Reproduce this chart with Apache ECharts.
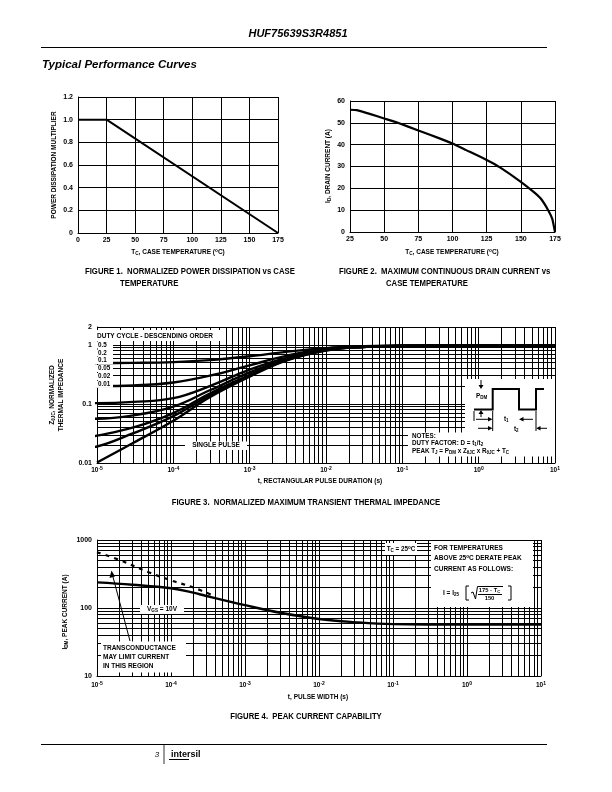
<!DOCTYPE html>
<html>
<head>
<meta charset="utf-8">
<script src="https://cdn.jsdelivr.net/npm/echarts@6/dist/echarts.min.js"></script>
<style>
  html, body { margin: 0; padding: 0; background: #fff; }
  #page { width: 612px; height: 792px; }
</style>
</head>
<body>
<div id="page"></div>
<script>
  // figure 1: power dissipation multiplier vs case temperature
  const fig1Temp = [0, 25, 175];
  const fig1Mult = [1.0, 1.0, 0];

  // figure 2: max continuous drain current vs case temperature
  const fig2Temp = [25, 30, 40, 50, 60, 75, 90, 100, 110, 125, 135, 150, 160, 165, 170, 173, 175];
  const fig2Current = [56, 55.8, 54, 52, 50, 46.5, 43, 40.5, 37.5, 33, 29.5, 23, 18, 15, 10, 6, 0];

  // figure 3: normalized transient thermal impedance
  const fig3Time = [8e-6, 1e-5, 3e-5, 1e-4, 3e-4, 1e-3, 3e-3, 1e-2, 3e-2, 1e-1, 1, 10];
  const duty05 = [0.49, 0.49, 0.495, 0.51, 0.55, 0.64, 0.76, 0.88, 0.94, 0.97, 0.97, 0.97];
  const duty02 = [0.2, 0.2, 0.205, 0.23, 0.3, 0.45, 0.65, 0.86, 0.93, 0.96, 0.97, 0.97];
  const duty01 = [0.103, 0.103, 0.108, 0.125, 0.2, 0.38, 0.6, 0.84, 0.93, 0.96, 0.97, 0.97];
  const duty005 = [0.056, 0.056, 0.064, 0.09, 0.17, 0.34, 0.58, 0.83, 0.92, 0.96, 0.97, 0.97];
  const duty002 = [0.028, 0.029, 0.04, 0.07, 0.15, 0.31, 0.56, 0.82, 0.92, 0.96, 0.97, 0.97];
  const duty001 = [0.0185, 0.019, 0.032, 0.062, 0.14, 0.30, 0.55, 0.81, 0.92, 0.96, 0.97, 0.97];
  const singlePulse = [null, 0.0102, 0.022, 0.052, 0.13, 0.29, 0.54, 0.8, 0.92, 0.96, 0.97, 0.97];
  const dutyLabels = ['0.5', '0.2', '0.1', '0.05', '0.02', '0.01'];

  // figure 4: peak current capability
  const fig4Time = [1e-5, 3e-5, 1e-4, 2e-4, 3e-4, 1e-3, 3e-3, 1e-2, 3e-2, 1e-1, 1, 10];
  const fig4Peak = [238, 220, 195, 168, 150, 110, 85, 69, 62, 58, 57, 57];
  const fig4LimitTime = [1e-5, 2e-5, 5e-5, 1e-4, 2e-4, 4e-4];
  const fig4Limit = [660, 510, 335, 255, 200, 148];

  const F = '"Liberation Sans", Arial, sans-serif';
  const FN = '"Liberation Sans Narrow", "Liberation Sans", Arial, sans-serif';

  const zip = (xs, ys) => xs.map((x, i) => [x, ys[i]]);

  // log grid positions (2..9 inside each decade)
  function minorVals(d0, d1) {
    const out = [];
    for (let d = d0; d <= d1; d++) {
      for (let k = 2; k <= 9; k++) out.push(+(k * Math.pow(10, d)).toPrecision(3));
    }
    return out;
  }

  function richFor(size, family) {
    return {
      sub: { fontSize: size * 0.72, fontFamily: family, fontWeight: 'bold', padding: [size * 0.5, 0, 0, 0] },
      sup: { fontSize: size * 0.72, fontFamily: family, fontWeight: 'bold', padding: [0, 0, size * 0.55, 0] }
    };
  }

  function txt(x, y, s, o) {
    o = o || {};
    const size = o.size || 7;
    const family = o.family || F;
    return {
      type: 'text', x: x, y: y, z: 110, silent: true,
      rotation: o.rot || 0,
      scaleX: o.sx || 1,
      style: {
        text: s, fill: '#000',
        fontFamily: family, fontSize: size,
        fontWeight: o.weight || 'bold', fontStyle: o.italic ? 'italic' : 'normal',
        align: o.align || 'left', verticalAlign: 'middle',
        rich: richFor(size, family)
      }
    };
  }

  function box(x, y, w, h) {
    return { type: 'rect', z: 100, silent: true, shape: { x: x, y: y, width: w, height: h }, style: { fill: '#fff' } };
  }

  function pline(points, w) {
    return { type: 'polyline', z: 112, silent: true, shape: { points: points }, style: { stroke: '#000', lineWidth: w || 1, fill: null } };
  }

  function tri(points) {
    return { type: 'polygon', z: 112, silent: true, shape: { points: points }, style: { fill: '#000' } };
  }

  const axisLabelStyle = { fontFamily: F, fontSize: 7, fontWeight: 'bold', color: '#000' };
  const blackLine = { color: '#000', width: 1 };

  function valueAxis(gridIndex, min, max, interval, margin) {
    return {
      type: 'value', gridIndex: gridIndex, min: min, max: max, interval: interval,
      axisLine: { show: true, lineStyle: blackLine },
      axisTick: { show: false },
      splitLine: { show: true, lineStyle: blackLine },
      axisLabel: Object.assign({ margin: margin }, axisLabelStyle)
    };
  }

  const powRich = {
    b: { fontFamily: F, fontSize: 6.5, fontWeight: 'bold', color: '#000' },
    s: { fontFamily: F, fontSize: 5, fontWeight: 'bold', color: '#000', padding: [0, 0, 4, 0] }
  };

  function logXAxis(gridIndex, margin) {
    return {
      type: 'log', logBase: 10, gridIndex: gridIndex, min: 1e-5, max: 10,
      axisLine: { show: true, lineStyle: blackLine },
      axisTick: { show: false },
      splitLine: { show: true, lineStyle: blackLine },
      axisLabel: {
        margin: margin,
        formatter: v => '{b|10}{s|' + Math.round(Math.log10(v)) + '}',
        rich: powRich
      }
    };
  }

  function logYAxis(gridIndex, min, max, margin) {
    return {
      type: 'log', logBase: 10, gridIndex: gridIndex, min: min, max: max,
      axisLine: { show: true, lineStyle: blackLine },
      axisTick: { show: false },
      splitLine: { show: true, lineStyle: blackLine },
      axisLabel: Object.assign({ margin: margin, formatter: v => String(+(+v).toPrecision(2)) }, axisLabelStyle)
    };
  }

  // minor log grid drawn as a lines series through the axes' own scales
  function minorGrid(idx, xs, ys, xr, yr) {
    const data = xs.map(v => ({ coords: [[v, yr[0]], [v, yr[1]]] }))
      .concat(ys.map(v => ({ coords: [[xr[0], v], [xr[1], v]] })));
    return {
      type: 'lines', coordinateSystem: 'cartesian2d', xAxisIndex: idx, yAxisIndex: idx,
      polyline: false, silent: true, z: 1, animation: false,
      lineStyle: { color: '#000', width: 1, opacity: 1, curveness: 0 },
      data: data
    };
  }

  function curve(idx, data, width, extra) {
    return Object.assign({
      type: 'line', xAxisIndex: idx, yAxisIndex: idx, data: data,
      showSymbol: false, symbol: 'none', smooth: 0.4,
      lineStyle: { color: '#000', width: width }, z: 5, silent: true
    }, extra || {});
  }

  const fig3Series = [duty05, duty02, duty01, duty005, duty002, duty001, singlePulse];

  const series = [
    curve(0, zip(fig1Temp, fig1Mult), 2, { smooth: false }),
    curve(1, zip(fig2Temp, fig2Current), 2.2, { smooth: 0.15 }),
    minorGrid(2, minorVals(-5, 0), minorVals(-2, -1), [1e-5, 10], [0.01, 2]),
    ...fig3Series.map(vals => curve(2, zip(fig3Time, vals), 2.4, { clip: false })),
    minorGrid(3, minorVals(-5, 0), minorVals(1, 2), [1e-5, 10], [10, 1000]),
    curve(3, zip(fig4Time, fig4Peak), 2.4),
    curve(3, zip(fig4LimitTime, fig4Limit), 2.2, { lineStyle: { color: '#000', width: 2.2, type: [4, 5] } })
  ];

  const CAP = { size: 8.6, family: FN, sx: 0.9 };

  const graphics = [
    // header
    txt(298, 34, 'HUF75639S3R4851', { size: 11, italic: true, align: 'center' }),
    { type: 'line', z: 100, shape: { x1: 41, y1: 47.5, x2: 547, y2: 47.5 }, style: { stroke: '#000', lineWidth: 1 } },
    txt(42, 65, 'Typical Performance Curves', { size: 11.5, italic: true }),

    // figure 1 texts
    txt(54, 165, 'POWER DISSIPATION MULTIPLIER', { size: 6.5, rot: Math.PI / 2, align: 'center' }),
    txt(178, 252.5, 'T{sub|C}, CASE TEMPERATURE ({sup|o}C)', { size: 6.5, align: 'center' }),
    txt(85, 272, 'FIGURE 1.  NORMALIZED POWER DISSIPATION vs CASE', CAP),
    txt(120, 283.5, 'TEMPERATURE', CAP),

    // figure 2 texts
    txt(328, 166, 'I{sub|D}, DRAIN CURRENT (A)', { size: 6.5, rot: Math.PI / 2, align: 'center' }),
    txt(452, 252.5, 'T{sub|C}, CASE TEMPERATURE ({sup|o}C)', { size: 6.5, align: 'center' }),
    txt(339, 272, 'FIGURE 2.  MAXIMUM CONTINUOUS DRAIN CURRENT vs', CAP),
    txt(386, 283.5, 'CASE TEMPERATURE', CAP),

    // figure 3 texts
    txt(52, 395, 'Z{sub|θJC}, NORMALIZED', { size: 6.5, rot: Math.PI / 2, align: 'center' }),
    txt(61, 395, 'THERMAL IMPEDANCE', { size: 6.5, rot: Math.PI / 2, align: 'center' }),
    txt(320, 481.5, 't, RECTANGULAR PULSE DURATION (s)', { size: 6.5, align: 'center' }),
    txt(306, 503, 'FIGURE 3.  NORMALIZED MAXIMUM TRANSIENT THERMAL IMPEDANCE', Object.assign({ align: 'center' }, CAP)),
    box(91, 330, 131, 11),
    txt(97, 336, 'DUTY CYCLE - DESCENDING ORDER', { size: 6.5 }),
    box(185, 441.5, 62, 8.5),
    txt(216, 445.5, 'SINGLE PULSE', { size: 6.5, align: 'center' }),
    box(465, 379, 90, 54),
    box(408, 432.5, 147, 24),
    txt(412, 436.5, 'NOTES:', { size: 6.3 }),
    txt(412, 443.5, 'DUTY FACTOR: D = t{sub|1}/t{sub|2}', { size: 6.3 }),
    txt(412, 451, 'PEAK T{sub|J} = P{sub|DM} x Z{sub|θJC} x R{sub|θJC} + T{sub|C}', { size: 6.3 }),
    // pulse diagram
    pline([[474, 409.5], [492.7, 409.5], [492.7, 389], [519, 389], [519, 409.5], [536, 409.5], [536, 389], [544, 389]], 2),
    pline([[481, 380], [481, 386]]),
    tri([[478.5, 385], [483.5, 385], [481, 389]]),
    txt(476, 396, 'P{sub|DM}', { size: 6.3 }),
    pline([[481, 417], [481, 413]]),
    tri([[478.5, 414], [483.5, 414], [481, 410]]),
    pline([[474, 411], [474, 421]]),
    pline([[492.7, 411], [492.7, 431]]),
    pline([[536, 411], [536, 431]]),
    pline([[476, 419.3], [489, 419.3]]),
    tri([[488, 417], [488, 421.6], [492.5, 419.3]]),
    txt(504, 419.5, 't{sub|1}', { size: 6.3 }),
    pline([[533, 419.3], [523, 419.3]]),
    tri([[523.5, 417], [523.5, 421.6], [519, 419.3]]),
    pline([[478, 428.3], [489, 428.3]]),
    tri([[488, 426], [488, 430.6], [492.5, 428.3]]),
    txt(514, 429.5, 't{sub|2}', { size: 6.3 }),
    pline([[547, 428.3], [540, 428.3]]),
    tri([[540.5, 426], [540.5, 430.6], [536.2, 428.3]]),

    // figure 4 texts
    txt(65, 612, 'I{sub|DM}, PEAK CURRENT (A)', { size: 6.5, rot: Math.PI / 2, align: 'center' }),
    txt(318, 697, 't, PULSE WIDTH (s)', { size: 6.5, align: 'center' }),
    txt(306, 717, 'FIGURE 4.  PEAK CURRENT CAPABILITY', Object.assign({ align: 'center' }, CAP)),
    box(140, 605, 44, 9),
    txt(162, 609.5, 'V{sub|GS} = 10V', { size: 6.5, align: 'center' }),
    box(101, 641.5, 85, 31),
    txt(103, 648, 'TRANSCONDUCTANCE', { size: 6.5 }),
    txt(103, 657.5, 'MAY LIMIT CURRENT', { size: 6.5 }),
    txt(103, 666.5, 'IN THIS REGION', { size: 6.5 }),
    pline([[130, 641], [113, 577]]),
    tri([[109.5, 578], [115, 576.5], [111.5, 570.5]]),
    box(385, 543, 32, 12),
    txt(401, 549, 'T{sub|C} = 25{sup|o}C', { size: 6.3, align: 'center' }),
    box(431, 541, 102, 66),
    txt(434, 548.5, 'FOR TEMPERATURES', { size: 6.5 }),
    txt(434, 558.5, 'ABOVE 25{sup|o}C DERATE PEAK', { size: 6.5 }),
    txt(434, 569, 'CURRENT AS FOLLOWS:', { size: 6.5 }),
    txt(443, 593, 'I = I{sub|25}', { size: 6.5 }),
    pline([[469, 586], [466, 586], [466, 600], [469, 600]]),
    pline([[471, 593], [473, 592], [475.5, 599], [477.5, 586.5], [503, 586.5]]),
    txt(489.5, 590.5, '175 - T{sub|C}', { size: 5.8, align: 'center' }),
    pline([[478, 594.5], [502, 594.5]]),
    txt(489.5, 598.5, '150', { size: 5.8, align: 'center' }),
    pline([[508, 586], [511, 586], [511, 600], [508, 600]]),

    // footer
    { type: 'line', z: 100, shape: { x1: 41, y1: 744.5, x2: 547, y2: 744.5 }, style: { stroke: '#000', lineWidth: 1 } },
    txt(157, 755, '3', { size: 8, italic: true, weight: 'normal', align: 'center' }),
    { type: 'line', z: 100, shape: { x1: 164, y1: 745, x2: 164, y2: 764 }, style: { stroke: '#000', lineWidth: 0.8 } },
    txt(171, 755, 'intersil', { size: 9 }),
    { type: 'line', z: 100, shape: { x1: 169, y1: 759.5, x2: 189, y2: 759.5 }, style: { stroke: '#000', lineWidth: 1 } }
  ];

  // legend labels of figure 3 (white-backed)
  dutyLabels.forEach((lab, i) => {
    const y = [345, 353, 360.5, 368.5, 376.5, 384.3][i];
    graphics.push(box(95, y - 3.5, 18, 7));
    graphics.push(txt(98, y, lab, { size: 6.3 }));
  });

  const chart = echarts.init(document.getElementById('page'), null, { renderer: 'canvas' });
  chart.setOption({
    animation: false,
    backgroundColor: '#fff',
    grid: [
      { left: 78, top: 97, width: 200, height: 136 },
      { left: 350, top: 101, width: 205, height: 131 },
      { left: 97, top: 327, width: 458, height: 136 },
      { left: 97, top: 540, width: 444, height: 136 }
    ],
    xAxis: [
      valueAxis(0, 0, 175, 25, 4),
      valueAxis(1, 25, 175, 25, 4),
      logXAxis(2, 3),
      logXAxis(3, 5)
    ],
    yAxis: [
      Object.assign(valueAxis(0, 0, 1.2, 0.2, 5), { axisLabel: Object.assign({ margin: 5, formatter: v => v === 0 ? '0' : v.toFixed(1) }, axisLabelStyle) }),
      valueAxis(1, 0, 60, 10, 5),
      logYAxis(2, 0.01, 2, 5),
      logYAxis(3, 10, 1000, 5)
    ],
    series: series,
    graphic: { elements: graphics }
  });
</script>
</body>
</html>
